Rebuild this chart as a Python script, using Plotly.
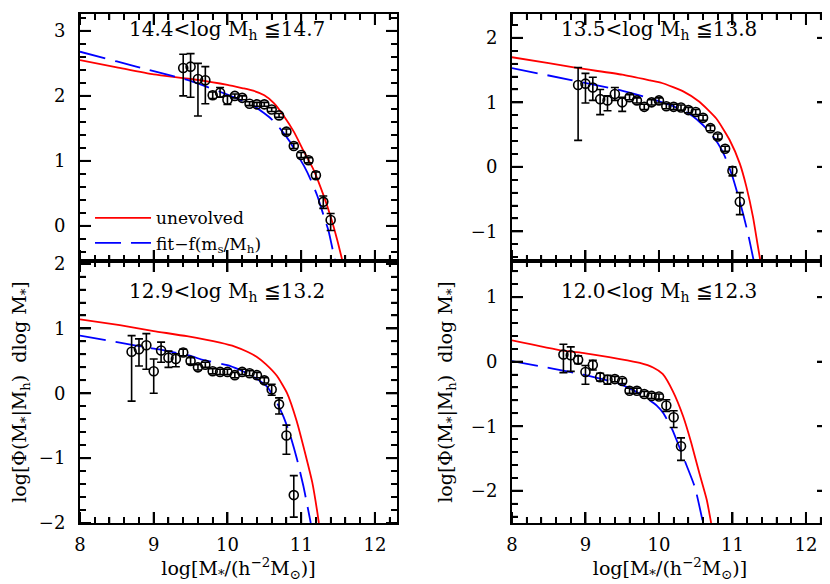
import math
import plotly.graph_objects as go

# conditional stellar mass functions in 4 halo-mass bins
FONT = "DejaVu Serif"

titles = ["14.4<log M<sub>h</sub> \u226614.7", "13.5<log M<sub>h</sub> \u226613.8",
          "12.9<log M<sub>h</sub> \u226613.2", "12.0<log M<sub>h</sub> \u226612.3"]

# --- panel 1 : 14.4 < log Mh <= 14.7
p1_x = [9.4, 9.5, 9.6, 9.7, 9.8, 9.9, 10.0, 10.1, 10.2, 10.3, 10.4, 10.5, 10.6, 10.7,
        10.8, 10.9, 11.0, 11.1, 11.2, 11.3, 11.4]
p1_y = [2.43, 2.45, 2.26, 2.24, 2.01, 2.05, 1.94, 2.0, 1.97, 1.88, 1.87, 1.87, 1.79, 1.70,
        1.45, 1.23, 1.09, 1.01, 0.78, 0.37, 0.09]
p1_eu = [0.21, 0.20, 0.24, 0.21, 0.05, 0.08, 0.06, 0.03, 0.03, 0.03, 0.03, 0.03, 0.03, 0.03,
         0.04, 0.04, 0.04, 0.04, 0.05, 0.09, 0.10]
p1_ed = [0.43, 0.47, 0.57, 0.36, 0.05, 0.07, 0.07, 0.03, 0.03, 0.03, 0.03, 0.03, 0.03, 0.03,
         0.04, 0.04, 0.04, 0.04, 0.05, 0.10, 0.16]
p1_red_x = [8.0, 8.5, 9.0, 9.5, 10.0, 10.2, 10.35, 10.5, 10.63, 10.76, 10.9, 11.03, 11.17,
            11.31, 11.4, 11.49, 11.56]
p1_red_y = [2.55, 2.44, 2.33, 2.26, 2.17, 2.12, 2.08, 2.01, 1.89, 1.70, 1.45, 1.16, 0.86,
            0.45, 0.14, -0.22, -0.54]
p1_blue_x = [8.0, 8.5, 9.0, 9.5, 10.0, 10.17, 10.35, 10.49, 10.6, 10.72, 10.85, 10.94, 11.04,
             11.13, 11.22, 11.31, 11.37, 11.46]
p1_blue_y = [2.68, 2.53, 2.38, 2.23, 2.02, 1.94, 1.85, 1.74, 1.64, 1.49, 1.29, 1.11, 0.92,
             0.71, 0.46, 0.14, -0.07, -0.54]

# --- panel 2 : 13.5 < log Mh <= 13.8
p2_x = [8.9, 9.0, 9.1, 9.2, 9.3, 9.4, 9.5, 9.6, 9.7, 9.8, 9.9, 10.0, 10.1, 10.2, 10.3,
        10.4, 10.5, 10.6, 10.7, 10.8, 10.9, 11.0, 11.1]
p2_y = [1.27, 1.29, 1.23, 1.05, 1.03, 1.13, 1.0, 1.08, 1.03, 0.93, 1.0, 1.03, 0.94, 0.93,
        0.92, 0.88, 0.85, 0.76, 0.60, 0.47, 0.28, -0.06, -0.54]
p2_eu = [0.27, 0.16, 0.16, 0.15, 0.07, 0.10, 0.08, 0.04, 0.04, 0.04, 0.04, 0.04, 0.04, 0.04,
         0.04, 0.04, 0.04, 0.04, 0.04, 0.04, 0.04, 0.06, 0.14]
p2_ed = [0.86, 0.30, 0.20, 0.24, 0.16, 0.10, 0.14, 0.04, 0.04, 0.04, 0.04, 0.04, 0.04, 0.04,
         0.04, 0.04, 0.04, 0.04, 0.04, 0.04, 0.04, 0.08, 0.20]
p2_red_x = [8.0, 8.5, 8.9, 9.5, 9.88, 10.04, 10.33, 10.55, 10.78, 10.96, 11.10, 11.19,
            11.28, 11.34, 11.38]
p2_red_y = [1.70, 1.61, 1.53, 1.43, 1.34, 1.30, 1.17, 1.01, 0.75, 0.42, 0.05, -0.31,
            -0.78, -1.19, -1.46]
p2_blue_x = [8.0, 8.79, 9.47, 9.88, 10.15, 10.4, 10.55, 10.64, 10.75, 10.85, 10.92, 11.0,
             11.07, 11.15, 11.22, 11.29]
p2_blue_y = [1.53, 1.35, 1.19, 1.06, 0.96, 0.83, 0.70, 0.60, 0.45, 0.27, 0.10, -0.15,
             -0.42, -0.75, -1.08, -1.46]

# --- panel 3 : 12.9 < log Mh <= 13.2
p3_x = [8.7, 8.8, 8.9, 9.0, 9.1, 9.2, 9.3, 9.4, 9.5, 9.6, 9.7, 9.8, 9.9, 10.0, 10.1,
        10.2, 10.3, 10.4, 10.5, 10.6, 10.7, 10.8, 10.9]
p3_y = [0.64, 0.68, 0.74, 0.34, 0.66, 0.55, 0.53, 0.63, 0.50, 0.40, 0.44, 0.34, 0.33, 0.33,
        0.28, 0.33, 0.31, 0.28, 0.20, 0.06, -0.17, -0.65, -1.57]
p3_eu = [0.25, 0.16, 0.18, 0.19, 0.13, 0.10, 0.08, 0.05, 0.05, 0.04, 0.04, 0.04, 0.04, 0.04,
         0.04, 0.04, 0.04, 0.04, 0.04, 0.08, 0.10, 0.16, 0.30]
p3_ed = [0.76, 0.26, 0.37, 0.34, 0.18, 0.15, 0.12, 0.05, 0.05, 0.04, 0.04, 0.04, 0.04, 0.04,
         0.04, 0.04, 0.04, 0.04, 0.04, 0.09, 0.15, 0.29, 0.34]
p3_red_x = [8.0, 8.54, 9.0, 9.45, 9.90, 10.1, 10.27, 10.4, 10.52, 10.67, 10.81, 10.94, 11.06,
            11.15, 11.22, 11.24]
p3_red_y = [1.14, 1.05, 0.96, 0.88, 0.78, 0.72, 0.64, 0.56, 0.45, 0.27, 0.0, -0.43, -0.95,
            -1.37, -1.84, -2.0]
p3_blue_x = [8.0, 8.54, 8.95, 9.11, 9.52, 9.65, 10.04, 10.17, 10.35, 10.54, 10.67, 10.76,
             10.85, 10.94, 11.03, 11.13]
p3_blue_y = [0.89, 0.78, 0.70, 0.67, 0.57, 0.52, 0.42, 0.36, 0.26, 0.10, -0.14, -0.36,
             -0.64, -1.0, -1.43, -2.0]

# --- panel 4 : 12.0 < log Mh <= 12.3
p4_x = [8.7, 8.8, 8.9, 9.0, 9.1, 9.2, 9.3, 9.4, 9.5, 9.6, 9.7, 9.8, 9.9, 10.0, 10.1,
        10.2, 10.3]
p4_y = [0.11, 0.10, 0.03, -0.16, -0.05, -0.24, -0.28, -0.27, -0.30, -0.45, -0.45, -0.50,
        -0.53, -0.54, -0.68, -0.86, -1.31]
p4_eu = [0.16, 0.13, 0.06, 0.10, 0.07, 0.06, 0.07, 0.04, 0.04, 0.04, 0.04, 0.04, 0.04, 0.04,
         0.09, 0.10, 0.13]
p4_ed = [0.28, 0.25, 0.06, 0.19, 0.08, 0.06, 0.07, 0.04, 0.04, 0.04, 0.04, 0.04, 0.04, 0.04,
         0.09, 0.16, 0.22]
p4_red_x = [8.0, 8.69, 9.0, 9.47, 9.74, 9.92, 10.05, 10.19, 10.33, 10.44, 10.55, 10.65, 10.71]
p4_red_y = [0.33, 0.17, 0.13, 0.04, -0.02, -0.09, -0.19, -0.46, -0.85, -1.26, -1.73, -2.14, -2.5]
p4_blue_x = [8.0, 8.57, 8.97, 9.43, 9.63, 9.8, 9.97, 10.06, 10.18, 10.28, 10.38, 10.49, 10.6]
p4_blue_y = [0.01, -0.11, -0.20, -0.33, -0.43, -0.54, -0.68, -0.80, -1.05, -1.33, -1.62,
             -1.95, -2.5]

panels = [
    (p1_x, p1_y, p1_eu, p1_ed, p1_red_x, p1_red_y, p1_blue_x, p1_blue_y),
    (p2_x, p2_y, p2_eu, p2_ed, p2_red_x, p2_red_y, p2_blue_x, p2_blue_y),
    (p3_x, p3_y, p3_eu, p3_ed, p3_red_x, p3_red_y, p3_blue_x, p3_blue_y),
    (p4_x, p4_y, p4_eu, p4_ed, p4_red_x, p4_red_y, p4_blue_x, p4_blue_y),
]
x_range = [8, 12.3]
y_ranges = [[-0.54, 3.26], [-1.46, 2.37], [-2.0, 2.04], [-2.5, 1.56]]
x_domains = [[0, 0.4238], [0.5775, 1], [0, 0.4238], [0.5775, 1]]
y_domains = [[0.5147, 1], [0.5147, 1], [0, 0.5147], [0, 0.5147]]

FIG_W, FIG_H = 822, 576
MARGIN = dict(l=72, r=2, t=6, b=61)
plot_w = FIG_W - MARGIN["l"] - MARGIN["r"]
plot_h = FIG_H - MARGIN["t"] - MARGIN["b"]

fig = go.Figure()

for i, (px_, py_, eu, ed, rx, ry, bx, by) in enumerate(panels):
    xa = "x" if i == 0 else "x%d" % (i + 1)
    ya = "y" if i == 0 else "y%d" % (i + 1)
    fig.add_trace(go.Scatter(x=rx, y=ry, xaxis=xa, yaxis=ya, mode="lines",
                             line=dict(color="#ff0000", width=1.8, shape="spline", smoothing=0.5),
                             name="unevolved", showlegend=(i == 0)))
    fig.add_trace(go.Scatter(x=bx, y=by, xaxis=xa, yaxis=ya, mode="lines",
                             line=dict(color="#0000ff", width=1.8, dash="26px,10px",
                                       shape="spline", smoothing=0.5),
                             name="fit\u2212f(m<sub>s</sub>/M<sub>h</sub>)", showlegend=(i == 0)))
    fig.add_trace(go.Scatter(x=px_, y=py_, xaxis=xa, yaxis=ya, mode="markers",
                             marker=dict(symbol="circle-open", size=9, color="black",
                                         line=dict(width=1.6, color="black")),
                             error_y=dict(type="data", symmetric=False, array=eu, arrayminus=ed,
                                          color="black", thickness=1.6, width=4),
                             showlegend=False))
    fig.add_annotation(text=titles[i], xref=xa, x=10, yref=ya + " domain",
                       y=0.935 if i < 2 else 0.88, yanchor="middle", showarrow=False,
                       font=dict(family=FONT, size=20, color="black"))

axis_common = dict(showline=True, linewidth=2, linecolor="black", mirror="allticks",
                   ticks="inside", ticklen=11, tickwidth=2, tickcolor="black", dtick=1,
                   showgrid=True, gridcolor="rgba(0,0,0,0)",
                   zerolinecolor="rgba(0,0,0,0)",
                   minor=dict(dtick=0.2, ticklen=6, tickwidth=1.5, ticks="inside",
                              tickcolor="black"),
                   tickfont=dict(family=FONT, size=18, color="black"))

xtitle = "log[M<sub>*</sub>/(h<sup>\u22122</sup>M<sub>\u2299</sub>)]"
ytitle = "log[\u03a6(M<sub>*</sub>|M<sub>h</sub>)  dlog M<sub>*</sub>]"

for i in range(4):
    xk = "xaxis" if i == 0 else "xaxis%d" % (i + 1)
    yk = "yaxis" if i == 0 else "yaxis%d" % (i + 1)
    ya = "y" if i == 0 else "y%d" % (i + 1)
    xa = "x" if i == 0 else "x%d" % (i + 1)
    xax = dict(axis_common, domain=x_domains[i], range=x_range, anchor=ya,
               showticklabels=(i >= 2), ticklabelstandoff=4)
    yax = dict(axis_common, domain=y_domains[i], range=y_ranges[i], anchor=xa,
               ticklabelstandoff=9)
    if i >= 2:
        xax["title"] = dict(text=xtitle, font=dict(family=FONT, size=19, color="black"),
                            standoff=7)
        yax["title"] = dict(text=ytitle, font=dict(family=FONT, size=19, color="black"),
                            standoff=13)
    fig.update_layout(**{xk: xax, yk: yax})


def tick_values(lo, hi, step, skip_int):
    k0 = math.ceil(lo / step - 1e-9)
    k1 = math.floor(hi / step + 1e-9)
    vals = []
    for k in range(k0, k1 + 1):
        v = round(k * step, 6)
        if skip_int and abs(v - round(v)) < 1e-9:
            continue
        vals.append(v)
    return vals


# inside ticks on all four sides of every panel (SM style), drawn as axis decorations
tick_shapes = []
for i in range(4):
    xa = "x" if i == 0 else "x%d" % (i + 1)
    ya = "y" if i == 0 else "y%d" % (i + 1)
    w_px = plot_w * (x_domains[i][1] - x_domains[i][0])
    h_px = plot_h * (y_domains[i][1] - y_domains[i][0])
    for step, ln, lw, skip in [(1.0, 11, 2.0, False), (0.2, 6, 1.5, True)]:
        for v in tick_values(x_range[0], x_range[1], step, skip):
            for base, sgn in ((0, 1), (1, -1)):
                tick_shapes.append(dict(type="line", xref=xa, yref=ya + " domain",
                                        x0=v, x1=v, y0=base, y1=base + sgn * ln / h_px,
                                        line=dict(color="black", width=lw), layer="above"))
        for v in tick_values(y_ranges[i][0], y_ranges[i][1], step, skip):
            for base, sgn in ((0, 1), (1, -1)):
                tick_shapes.append(dict(type="line", xref=xa + " domain", yref=ya,
                                        x0=base, x1=base + sgn * ln / w_px, y0=v, y1=v,
                                        line=dict(color="black", width=lw), layer="above"))

# page body has an 8px margin, so the figure is 8px smaller and margins shifted
fig.update_layout(
    template="none",
    width=FIG_W, height=FIG_H,
    margin=dict(MARGIN, autoexpand=False),
    paper_bgcolor="white", plot_bgcolor="white",
    shapes=tick_shapes,
    legend=dict(x=0.0134, y=0.634, xanchor="left", yanchor="top", bgcolor="rgba(0,0,0,0)",
                font=dict(family=FONT, size=17, color="black"), itemwidth=56,
                tracegroupgap=0),
)

fig.write_html("out.html")
